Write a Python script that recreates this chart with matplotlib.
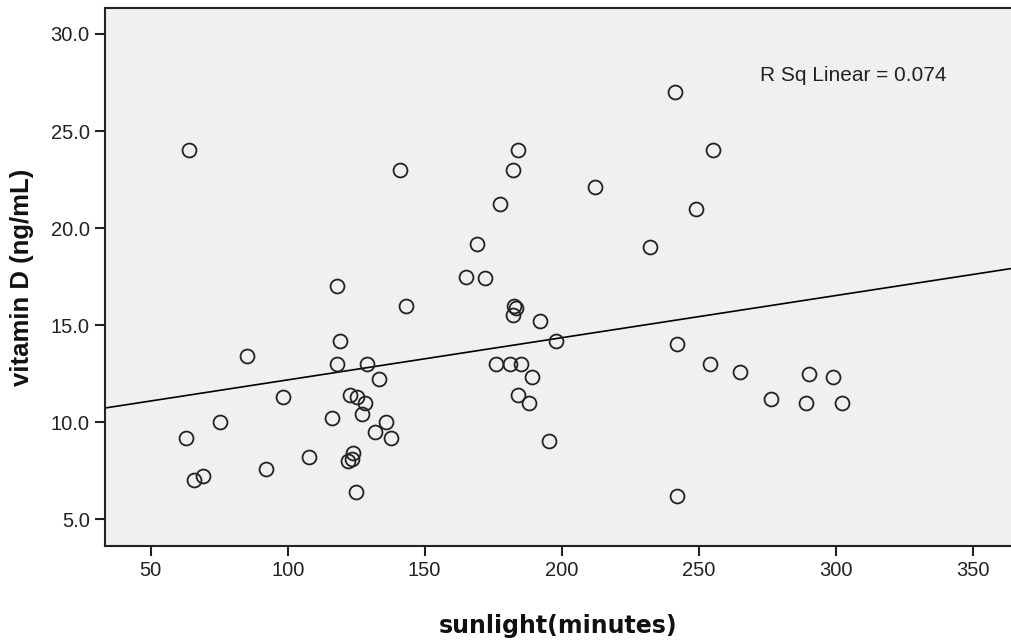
import numpy as np
import matplotlib.pyplot as plt

# sunlight (minutes) and vitamin D (ng/mL)
sunlight = [64.0, 141.1, 177.5, 169.1, 165.1, 172.1, 118.0, 143.0, 119.2,
            241.3, 184.1, 255.2, 182.1, 212.1, 249.1, 232.1, 182.7, 183.2,
            182.1, 192.0, 198.1, 242.2, 176.0, 181.0, 185.2, 189.2, 183.9,
            188.2, 118.0, 129.1, 133.2, 122.8, 125.3, 128.3, 127.1, 116.1,
            136.0, 132.0, 137.8, 107.9, 124.0, 123.4, 122.0, 125.0, 85.1,
            98.1, 75.1, 62.9, 92.0, 69.0, 65.8, 254.1, 265.1, 290.3, 299.2,
            276.3, 289.3, 302.2, 242.2, 195.2]
vitamin_d = [24.0, 23.0, 21.25, 19.2, 17.5, 17.4, 17.0, 16.0, 14.2,
             27.0, 24.0, 24.0, 23.0, 22.1, 21.0, 19.0, 16.0, 15.9,
             15.5, 15.2, 14.2, 14.0, 13.0, 13.0, 13.0, 12.3, 11.4,
             11.0, 13.0, 13.0, 12.2, 11.4, 11.3, 11.0, 10.4, 10.2,
             10.0, 9.5, 9.2, 8.2, 8.4, 8.1, 8.0, 6.4, 13.4,
             11.3, 10.0, 9.2, 7.6, 7.2, 7.0, 13.0, 12.6, 12.5, 12.3,
             11.2, 11.0, 11.0, 6.2, 9.0]

x_ticks = [50, 100, 150, 200, 250, 300, 350]
y_ticks = [5.0, 10.0, 15.0, 20.0, 25.0, 30.0]
r_sq_text = "R Sq Linear = 0.074"

x = np.array(sunlight)
y = np.array(vitamin_d)

fig = plt.figure(figsize=(10.12, 6.43), dpi=100)
ax = fig.add_axes([105 / 1012, 1 - 546 / 643, (1012 - 105) / 1012, (546 - 8) / 643])
ax.set_facecolor('#f0f0f0')

ax.set_xlim(33.3, 364.4)
ax.set_ylim(3.61, 31.34)

# fit line across the whole x range
slope, intercept = np.polyfit(x, y, 1)
xs = np.array(ax.get_xlim())
ax.plot(xs, intercept + slope * xs, color='black', lw=1.2, zorder=2)

ax.plot(x, y, linestyle='none', marker='o', markersize=10,
        markerfacecolor='none', markeredgecolor='#222222', markeredgewidth=1.3, zorder=3)

ax.text(0.722, 0.875, r_sq_text, transform=ax.transAxes, fontsize=15,
        family='Liberation Sans', color='#222222', va='center', ha='left')

ax.set_xticks(x_ticks)
ax.set_yticks(y_ticks)
ax.set_yticklabels([f"{v:.1f}" for v in y_ticks])
ax.tick_params(axis='both', length=7, width=1.5, color='#222222',
               labelsize=14.5, labelcolor='#222222', pad=4)
for lab in ax.get_xticklabels() + ax.get_yticklabels():
    lab.set_family('Liberation Sans')

for side in ['left', 'bottom', 'top']:
    ax.spines[side].set_linewidth(1.5)
    ax.spines[side].set_color('#222222')
ax.spines['right'].set_visible(False)

ax.set_xlabel('sunlight(minutes)', fontsize=17, fontweight='bold',
              family='DejaVu Sans', color='#111111', labelpad=24)
ax.set_ylabel('vitamin D (ng/mL)', fontsize=18.5, fontweight='bold',
              family='Liberation Sans', color='#111111', labelpad=12)

fig.savefig('out.png', dpi=100)
